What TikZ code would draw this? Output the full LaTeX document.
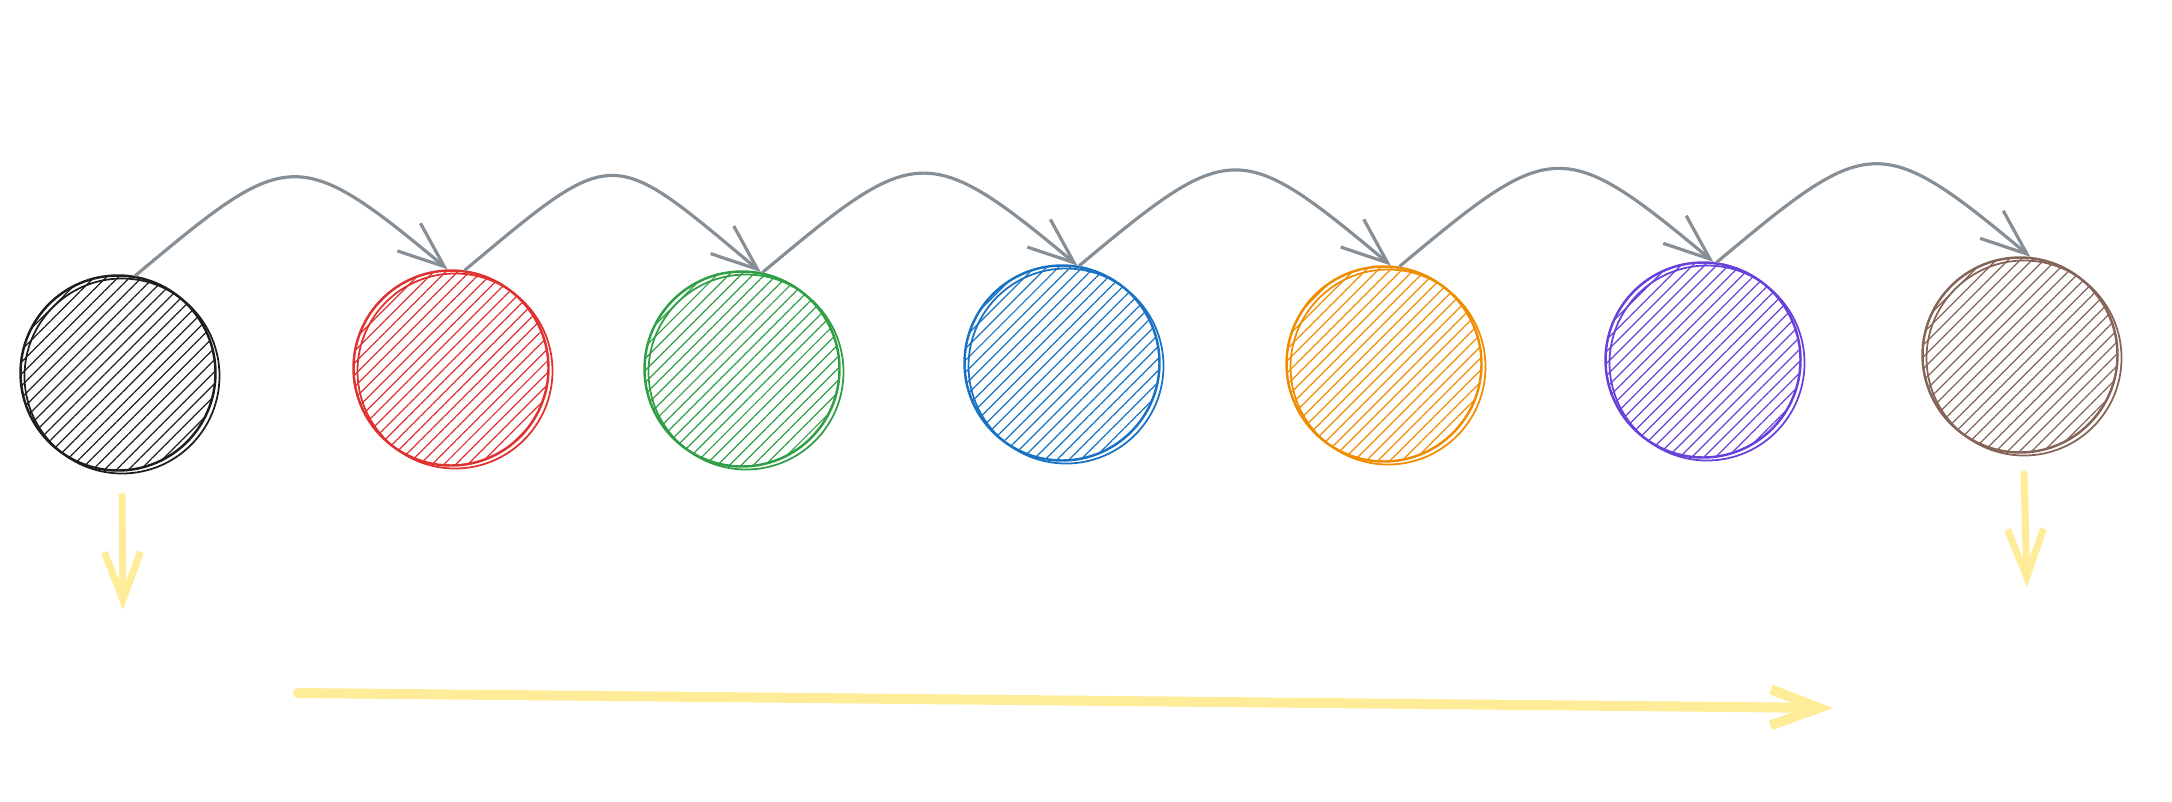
\documentclass[tikz,border=0pt]{standalone}
\usepackage{tikz}
\usetikzlibrary{arrows.meta, patterns.meta, positioning}
\definecolor{tinta}{HTML}{1E1E1E}
\definecolor{rojo}{HTML}{E03131}
\definecolor{verde}{HTML}{2F9E44}
\definecolor{azul}{HTML}{1971C2}
\definecolor{naranja}{HTML}{F08C00}
\definecolor{violeta}{HTML}{6741D9}
\definecolor{cafe}{HTML}{846358}
\definecolor{gris}{HTML}{868E96}
\definecolor{amarillo}{HTML}{FFEC99}

\begin{document}
\begin{tikzpicture}[x=0.1mm, y=-0.1mm,
        bola/.style={circle, draw=#1, pattern={Lines[angle=45, distance=2.4pt, line width=0.35pt]}, pattern color=#1, line width=0.7pt, minimum size=19.5mm, inner sep=0pt,
            postaction={draw=#1, line width=0.5pt, transform canvas={shift={(0.4mm,-0.3mm)}}}},
        salto/.style={-{Straight Barb[length=4.6mm, width=3.6mm]}, draw=gris, line width=0.9pt},
        flechota/.style={-{Straight Barb[length=4.8mm, width=3.6mm]}, draw=amarillo, line width=#1, line cap=round}]

        \useasboundingbox (0,0) rectangle (2172,801);

        \node[bola=tinta] (b1) at (118,373) {};
        \node[bola=rojo] (b2) at (451,368) {};
        \node[bola=verde] (b3) at (742,369) {};
        \node[bola=azul] (b4) at (1062,363) {};
        \node[bola=naranja] (b5) at (1384,364) {};
        \node[bola=violeta] (b6) at (1703,360) {};
        \node[bola=cafe] (b7) at (2020,355) {};

        \draw[salto] (b1.80) .. controls +(152,-127) and +(-152,-127) .. (b2.92);
        \draw[salto] (b2.82) .. controls +(152,-127) and +(-152,-127) .. (b3.79);
        \draw[salto] (b3.78) .. controls +(152,-127) and +(-152,-127) .. (b4.81);
        \draw[salto] (b4.80) .. controls +(152,-127) and +(-152,-127) .. (b5.86);
        \draw[salto] (b5.81) .. controls +(152,-127) and +(-152,-127) .. (b6.84);
        \draw[salto] (b6.82) .. controls +(152,-127) and +(-152,-127) .. (b7.84);

        % Flechas amarillas
        \coordinate (ini1) at (122,496);
        \coordinate (fin1) at (123,610);
        \coordinate (ini7) at (2024,474);
        \coordinate (fin7) at (2027,587);
        \coordinate (iniT) at (298,693);
        \coordinate (finT) at (1833,708);
        \draw[flechota=0.7mm] (ini1) -- (fin1);
        \draw[flechota=0.7mm] (ini7) -- (fin7);
        \draw[flechota=1mm] (iniT) -- (finT);
    \end{tikzpicture}
\end{document}
